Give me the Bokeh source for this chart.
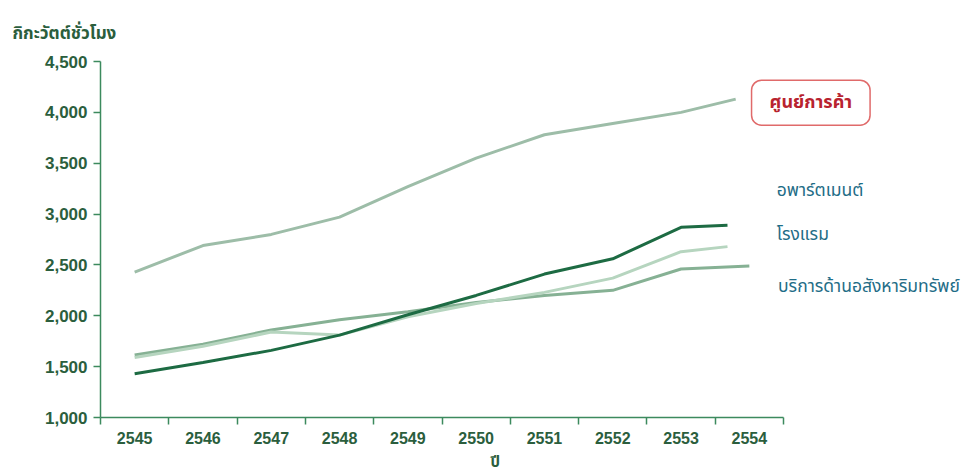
from bokeh.plotting import figure
from bokeh.models import Range1d, FixedTicker, Label, NumeralTickFormatter, Title
from bokeh.embed import file_html
from bokeh.resources import INLINE

# Electricity use by building type (GWh), Thai Buddhist-era years
years = [2545, 2546, 2547, 2548, 2549, 2550, 2551, 2552, 2553, 2554]
year_labels = [str(y) for y in years]

# last point of each series is a partial-year value
mall_x = [2545, 2546, 2547, 2548, 2549, 2550, 2551, 2552, 2553, 2553.8]
mall = [2430, 2690, 2800, 2970, 3270, 3550, 3780, 3890, 4000, 4130]

apartment_x = [2545, 2546, 2547, 2548, 2549, 2550, 2551, 2552, 2553, 2553.68]
apartment = [1430, 1540, 1660, 1810, 2010, 2200, 2410, 2560, 2870, 2890]

hotel_x = [2545, 2546, 2547, 2548, 2549, 2550, 2551, 2552, 2553, 2553.68]
hotel = [1590, 1700, 1840, 1810, 1990, 2120, 2230, 2370, 2630, 2680]

realestate_x = [2545, 2546, 2547, 2548, 2549, 2550, 2551, 2552, 2553, 2554.0]
realestate = [1615, 1720, 1860, 1960, 2040, 2130, 2200, 2250, 2460, 2490]

y_ticks = [1000, 1500, 2000, 2500, 3000, 3500, 4000, 4500]

AXIS_GREEN = "#3c8a5e"
LABEL_GREEN = "#2b5e3d"
LABEL_TEAL = "#1f6d87"
THAI_FONT = "Noto Sans Thai"

W, H = 979, 475
LEFT, TOP, BOTTOM = 100, 61, 58
X0, X1 = 2544.5, 2554.5
# the frame runs to the right edge so the series names sit inside it;
# the axis itself stops at the last year
PX_PER_YEAR = 68.3
x_end = X0 + (W - LEFT) / PX_PER_YEAR

p = figure(
    width=W, height=H,
    output_backend="svg", toolbar_location=None,
    x_range=Range1d(X0, x_end), y_range=Range1d(1000, 4500),
    min_border_left=LEFT, min_border_right=0,
    min_border_top=TOP, min_border_bottom=BOTTOM,
    background_fill_color="white", border_fill_color="white",
)
p.grid.visible = False
p.outline_line_color = None

# y axis
ya = p.yaxis[0]
ya.ticker = FixedTicker(ticks=y_ticks)
ya.formatter = NumeralTickFormatter(format="0,0")
ya.axis_line_color = AXIS_GREEN
ya.axis_line_width = 1.5
ya.major_tick_line_color = AXIS_GREEN
ya.major_tick_line_width = 1.5
ya.major_tick_out = 7
ya.major_tick_in = 0
ya.minor_tick_line_color = None
ya.major_label_standoff = 6
ya.major_label_text_font = "Liberation Sans"
ya.major_label_text_font_style = "bold"
ya.major_label_text_font_size = "17px"
ya.major_label_text_color = LABEL_GREEN

# x axis: labels at year centres, tick marks between years
xa = p.xaxis[0]
xa.bounds = (X0, X1)
xa.ticker = FixedTicker(ticks=years,
                        minor_ticks=[X0 + i for i in range(11)])
xa.major_label_overrides = {y: s for y, s in zip(years, year_labels)}
xa.axis_line_color = AXIS_GREEN
xa.axis_line_width = 1.5
xa.major_tick_line_color = None
xa.major_tick_out = 0
xa.major_tick_in = 0
xa.minor_tick_line_color = AXIS_GREEN
xa.minor_tick_line_width = 1.5
xa.minor_tick_out = 7
xa.minor_tick_in = 0
xa.major_label_standoff = 7
xa.major_label_text_font = "Liberation Sans"
xa.major_label_text_font_style = "bold"
xa.major_label_text_font_size = "16px"
xa.major_label_text_color = LABEL_GREEN

# series lines
p.line(mall_x, mall, line_color="#9dbda8", line_width=3)
p.line(realestate_x, realestate, line_color="#86b194", line_width=3)
p.line(hotel_x, hotel, line_color="#b6d5bf", line_width=3)
p.line(apartment_x, apartment, line_color="#1d6b43", line_width=3)

# axis titles
p.add_layout(Title(text="กิกะวัตต์ชั่วโมง", align="left", offset=-88,
                   standoff=30, text_font=THAI_FONT,
                   text_font_style="bold", text_font_size="17px",
                   text_color=LABEL_GREEN), "above")
p.add_layout(Title(text="ปี", align="left", offset=390, standoff=4,
                   text_font=THAI_FONT, text_font_style="bold",
                   text_font_size="15px", text_color=LABEL_GREEN), "below")

# series names
p.add_layout(Label(x=2554.9, y=4095, text="ศูนย์การค้า",
                   text_font=THAI_FONT, text_font_style="bold",
                   text_font_size="18px", text_color="#b8232f",
                   text_baseline="middle", text_align="center",
                   background_fill_color="white",
                   border_line_color="#e06a6a", border_line_width=1.5,
                   padding=(18, 9), border_radius=10))
for xv, yv, name in [(2554.4, 3227, "อพาร์ตเมนต์"), (2554.4, 2800, "โรงแรม"),
                     (2554.42, 2290, "บริการด้านอสังหาริมทรัพย์")]:
    p.add_layout(Label(x=xv, y=yv, text=name,
                       text_font=THAI_FONT, text_font_size="17.5px",
                       text_color=LABEL_TEAL,
                       text_baseline="middle", text_align="left"))

open("out.html", "w").write(file_html(p, INLINE))
